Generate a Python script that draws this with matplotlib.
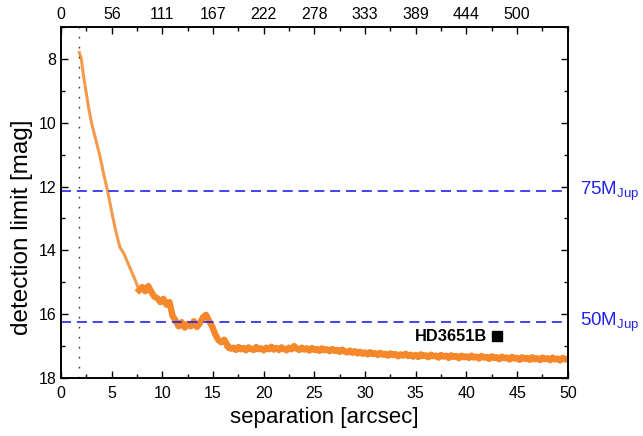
import matplotlib
matplotlib.use("Agg")
import matplotlib.pyplot as plt
from matplotlib.ticker import MultipleLocator, FixedLocator

plt.rcParams['font.family'] = ['Liberation Sans', 'DejaVu Sans']
plt.rcParams['mathtext.fontset'] = 'custom'
plt.rcParams['mathtext.rm'] = 'Liberation Sans'

# --- data ---
# steep inner part of the contrast curve
sep_inner = [1.8, 2.0, 2.2, 2.45, 2.7, 3.0, 3.4, 3.8, 4.2, 4.6, 5.0, 5.4, 5.8, 6.2, 6.6,
             7.0, 7.4, 7.7]
mag_inner = [7.8, 8.0, 8.5, 9.0, 9.5, 10.0, 10.5, 11.0, 11.6, 12.15, 12.8, 13.4, 13.9, 14.1, 14.4,
             14.7, 15.0, 15.25]
# plateau / bump region
sep_mid = [7.7, 8.0, 8.3, 8.6, 8.9, 9.2, 9.5, 9.8, 10.1, 10.4, 10.7, 11.0, 11.3, 11.6,
           11.9, 12.2, 12.5, 12.8, 13.1, 13.4, 13.7, 14.0, 14.3, 14.6, 14.9, 15.2, 15.5,
           15.8, 16.1, 16.5]
mag_mid = [15.25, 15.15, 15.28, 15.12, 15.3, 15.45, 15.5, 15.62, 15.52, 15.7, 15.62, 16.05, 16.2, 16.38,
           16.25, 16.42, 16.3, 16.38, 16.22, 16.4, 16.28, 16.1, 16.02, 16.2, 16.38, 16.62, 16.8,
           16.88, 16.8, 17.02]
# outer flat part
sep_outer = [16.5, 16.75, 17.0, 17.25, 17.5, 17.75, 18.0, 18.25, 18.5, 18.75, 19.0, 19.25,
             19.5, 19.75, 20.0, 20.25, 20.5, 20.75, 21.0, 21.25, 21.5, 21.75, 22.0, 22.25,
             22.5, 22.75, 23.0, 23.25, 23.5, 23.75, 24.0, 24.25, 24.5, 24.75, 25.0, 25.25,
             25.5, 25.75, 26.0, 26.25, 26.5, 26.75, 27.0, 27.25, 27.5, 27.75, 28.0, 28.25,
             28.5, 28.75, 29.0, 29.25, 29.5, 29.75, 30.0, 30.25, 30.5, 30.75, 31.0, 31.25,
             31.5, 31.75, 32.0, 32.25, 32.5, 32.75, 33.0, 33.25, 33.5, 33.75, 34.0, 34.25,
             34.5, 34.75, 35.0, 35.25, 35.5, 35.75, 36.0, 36.25, 36.5, 36.75, 37.0, 37.25,
             37.5, 37.75, 38.0, 38.25, 38.5, 38.75, 39.0, 39.25, 39.5, 39.75, 40.0, 40.25,
             40.5, 40.75, 41.0, 41.25, 41.5, 41.75, 42.0, 42.25, 42.5, 42.75, 43.0, 43.25,
             43.5, 43.75, 44.0, 44.25, 44.5, 44.75, 45.0, 45.25, 45.5, 45.75, 46.0, 46.25,
             46.5, 46.75, 47.0, 47.25, 47.5, 47.75, 48.0, 48.25, 48.5, 48.75, 49.0, 49.25,
             49.5, 49.75, 50.0]
mag_outer = [17.02, 17.08, 17.05, 17.12, 17.03, 17.1, 17.06, 17.13, 17.04, 17.09, 17.12, 17.03,
             17.1, 17.07, 17.13, 17.05, 17.1, 17.02, 17.11, 17.06, 17.12, 17.04, 17.09, 17.13,
             17.05, 17.1, 17.0, 17.08, 17.12, 17.05, 17.11, 17.07, 17.14, 17.06, 17.12, 17.09,
             17.15, 17.07, 17.13, 17.1, 17.16, 17.09, 17.15, 17.12, 17.18, 17.11, 17.17, 17.2,
             17.14, 17.21, 17.16, 17.23, 17.18, 17.24, 17.2, 17.26, 17.19, 17.25, 17.22, 17.28,
             17.21, 17.27, 17.24, 17.3, 17.23, 17.28, 17.25, 17.32, 17.26, 17.3, 17.24, 17.31,
             17.27, 17.33, 17.28, 17.34, 17.26, 17.31, 17.29, 17.35, 17.27, 17.32, 17.3, 17.36,
             17.28, 17.33, 17.3, 17.37, 17.29, 17.34, 17.31, 17.38, 17.3, 17.35, 17.32, 17.37,
             17.3, 17.36, 17.33, 17.39, 17.31, 17.36, 17.34, 17.4, 17.32, 17.37, 17.35, 17.41,
             17.33, 17.38, 17.36, 17.42, 17.34, 17.39, 17.37, 17.43, 17.35, 17.4, 17.37, 17.43,
             17.35, 17.41, 17.38, 17.44, 17.36, 17.41, 17.38, 17.44, 17.36, 17.42, 17.39, 17.45,
             17.37, 17.42, 17.4]

inner_sep = 1.8
mass_limits = [12.15, 16.25]
mass_labels = ['75M', '50M']
companion_sep = [43.0]
companion_mag = [16.69]
companion_name = 'HD3651B'

top_ticks = [0, 5, 10, 15, 20, 25, 30, 35, 40, 45]
top_labels = ['0', '56', '111', '167', '222', '278', '333', '389', '444', '500']

fig = plt.figure(figsize=(6.43, 4.36), dpi=100)
ax = fig.add_axes([0.095, 0.133, 0.788, 0.805])

orange = '#F5882A'
ax.plot(sep_inner, mag_inner, color='#F39A4C', lw=2.2)
ax.plot(sep_mid, mag_mid, color=orange, lw=4.6)
ax.plot(sep_outer, mag_outer, color=orange, lw=4.6)
ax.axvline(inner_sep, color='#333333', lw=1.0, linestyle=(0, (1.2, 6)))
blue = '#2222EE'
for y, lab in zip(mass_limits, mass_labels):
    ax.axhline(y, color=blue, lw=1.2, linestyle=(0, (6, 3.5)))
    ax.text(1.025, y, lab + r'$_{\mathrm{Jup}}$', transform=ax.get_yaxis_transform(),
            color=blue, fontsize=13.5, va='center', ha='left', clip_on=False)

ax.plot(companion_sep, companion_mag, 's', color='black', ms=7)
ax.text(companion_sep[0] - 1.0, companion_mag[0], companion_name, fontsize=11.8,
        fontweight='bold', ha='right', va='center')

ax.set_xlim(0, 50)
ax.set_ylim(18, 7)
ax.xaxis.set_major_locator(MultipleLocator(5))
ax.xaxis.set_minor_locator(MultipleLocator(2.5))
ax.yaxis.set_major_locator(MultipleLocator(2))
ax.yaxis.set_minor_locator(MultipleLocator(1))
ax.tick_params(which='both', direction='in', right=True, labelsize=11.5)
ax.tick_params(which='major', length=5, width=1)
ax.tick_params(which='minor', length=3, width=1)
ax.tick_params(axis='x', pad=6)

ax.set_xlabel('separation [arcsec]', fontsize=16, x=0.52)
ax.set_ylabel('detection limit [mag]', fontsize=17.5, y=0.43, labelpad=4)

top = ax.twiny()
top.set_xlim(ax.get_xlim())
top.xaxis.set_major_locator(FixedLocator(top_ticks))
top.set_xticklabels(top_labels)
top.xaxis.set_minor_locator(MultipleLocator(2.5))
top.tick_params(which='both', direction='in', labelsize=11.5)
top.tick_params(which='major', length=5, width=1)
top.tick_params(which='minor', length=3, width=1)

for a in (ax, top):
    for s in a.spines.values():
        s.set_linewidth(1.2)

fig.savefig('out.png', dpi=100)
